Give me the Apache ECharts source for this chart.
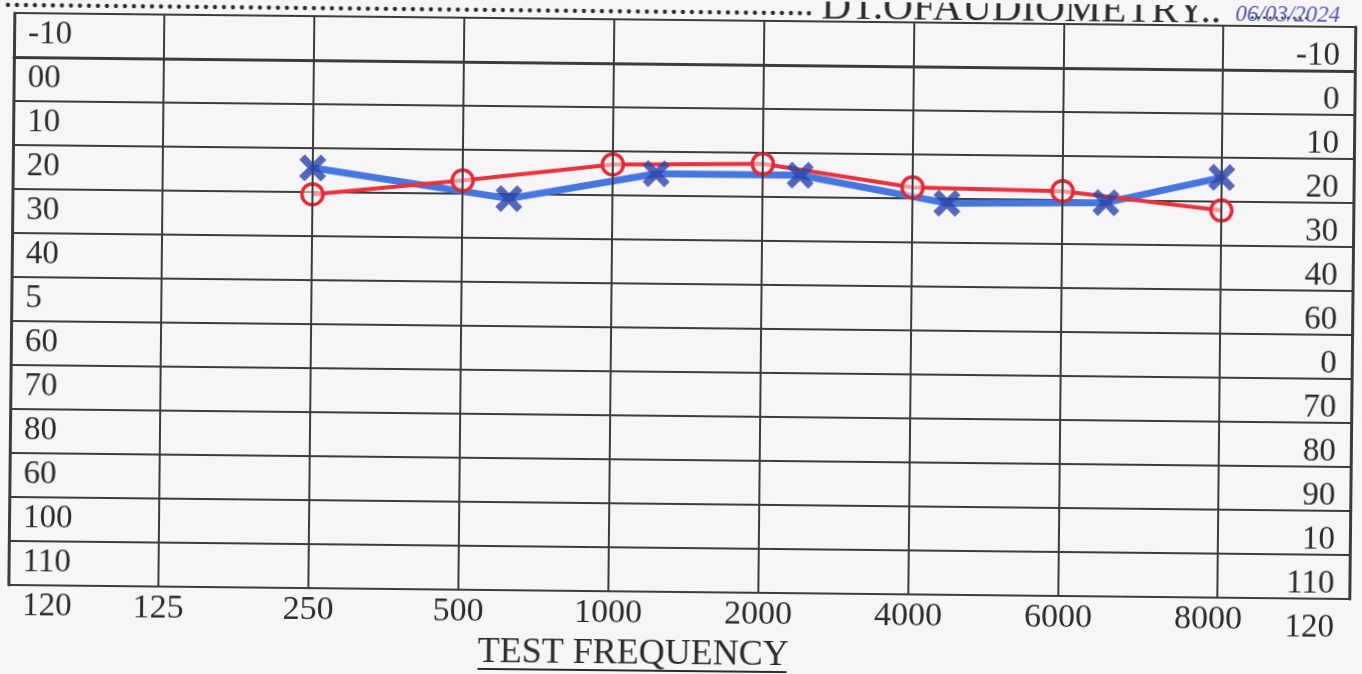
<!DOCTYPE html>
<html>
<head>
<meta charset="utf-8">
<script src="https://cdn.jsdelivr.net/npm/echarts@6/dist/echarts.min.js"></script>
<style>
  html, body { margin: 0; padding: 0; background: #f7f5f7; overflow: hidden; }
  #chart { width: 1362px; height: 674px; transform: rotate(0.6deg); transform-origin: 50% 50%; }
</style>
</head>
<body>
<div id="chart"></div>
<script>
// ---- data ----
const freqLabels = ['125', '250', '500', '1000', '2000', '4000', '6000', '8000'];
const freqSlot = [0, 1, 2, 3, 4, 5, 6, 7.06];            // column of each printed frequency
const leftDbLabels = ['-10', '00', '10', '20', '30', '40', '5', '60', '70', '80', '60', '100', '110', '120'];
const rightDbLabels = ['-10', '0', '10', '20', '30', '40', '60', '0', '70', '80', '90', '10', '110', '120'];

// red circles (O) at 250 ... 8000
const redSlot = [1, 2, 3, 4, 5, 6, 7.06];
const redDb = [30.5, 27, 23, 22.5, 27.5, 28, 32];
// blue crosses (X)
const blueSlot = [1, 2.31, 3.29, 4.25, 5.23, 6.29, 7.06];
const blueDb = [24.5, 31, 25, 25, 31, 30.5, 24.5];

const headerDate = '06/03/2024';

const FONT = '"Liberation Serif", "Times New Roman", serif';
const INK = '#2b2b2b';
const LINE = '#3c3c3c';

const pair = (xs, ys) => xs.map((x, i) => [x, ys[i]]);
const crossPath = 'path://M2,0 L5,3 L8,0 L10,2 L7,5 L10,8 L8,10 L5,7 L2,10 L0,8 L3,5 L0,2 Z';

const chart = echarts.init(document.getElementById('chart'), null, { renderer: 'canvas' });

const option = {
  animation: false,
  backgroundColor: '#f7f5f7',
  grid: { left: 11, right: 10, top: 20, bottom: 82, containLabel: false },
  xAxis: {
    type: 'value',
    min: -1,
    max: 7.94,
    interval: 1,
    axisLine: { show: true, lineStyle: { color: LINE, width: 3 } },
    axisTick: { show: false },
    splitLine: { show: false },
    axisLabel: {
      show: true,
      margin: 5,
      fontFamily: FONT,
      fontSize: 34,
      color: INK,
      showMinLabel: true,
      showMaxLabel: false,
      formatter: v => {
        const i = Math.round(v);
        return (i >= 0 && i < freqLabels.length) ? freqLabels[i] : '';
      }
    }
  },
  yAxis: [
    {
      type: 'value',
      position: 'left',
      inverse: true,
      min: -10,
      max: 120,
      interval: 10,
      axisLine: { show: true, onZero: false, lineStyle: { color: LINE, width: 3 } },
      axisTick: { show: false },
      splitLine: { show: true, lineStyle: { color: LINE, width: 2 } },
      axisLabel: {
        inside: true,
        margin: 14,
        align: 'left',
        verticalAlign: 'top',
        padding: [5, 0, 0, 0],
        fontFamily: FONT,
        fontSize: 33,
        color: INK,
        formatter: v => leftDbLabels[Math.round((v + 10) / 10)]
      }
    },
    {
      type: 'value',
      position: 'right',
      inverse: true,
      min: -10,
      max: 120,
      interval: 10,
      axisLine: { show: true, onZero: false, lineStyle: { color: LINE, width: 3 } },
      axisTick: { show: false },
      splitLine: { show: false },
      axisLabel: {
        inside: true,
        margin: 15,
        align: 'right',
        verticalAlign: 'top',
        padding: [13, 0, 0, 0],
        fontFamily: FONT,
        fontSize: 33,
        color: INK,
        formatter: v => rightDbLabels[Math.round((v + 10) / 10)]
      }
    }
  ],
  series: [
    {
      // column rules of the printed form
      type: 'line',
      data: [],
      z: 1,
      silent: true,
      markLine: {
        silent: true,
        symbol: ['none', 'none'],
        label: { show: false },
        lineStyle: { color: LINE, width: 2, type: 'solid' },
        data: freqSlot.map(v => ({ xAxis: v }))
      }
    },
    {
      name: 'X',
      type: 'line',
      data: pair(blueSlot, blueDb),
      z: 3,
      showSymbol: false,
      symbol: 'none',
      lineStyle: { color: '#4677e0', width: 7, cap: 'round', join: 'round' }
    },
    {
      name: 'O',
      type: 'line',
      data: pair(redSlot, redDb),
      z: 4,
      symbol: 'circle',
      symbolSize: 21,
      lineStyle: { color: '#e8323c', width: 4 },
      itemStyle: { color: 'rgba(250,236,238,0.55)', borderColor: '#e02a35', borderWidth: 3.5 }
    },
    {
      name: 'X marks',
      type: 'scatter',
      data: pair(blueSlot, blueDb),
      z: 5,
      symbol: crossPath,
      symbolSize: 27,
      itemStyle: { color: '#2a42a8' }
    }
  ],
  graphic: [
    {
      type: 'text', x: 0, y: 5, z: 10,
      style: { text: '..........................................................................................', font: '36px ' + FONT, fill: INK, verticalAlign: 'middle' }
    },
    {
      type: 'text', x: 818, y: 6, z: 10,
      style: { text: 'DT.OFAUDIOMETRY..', font: '41px ' + FONT, fill: INK, verticalAlign: 'middle' }
    },
    {
      type: 'text', x: 1246, y: 7, z: 10,
      style: { text: '..........', font: '24px ' + FONT, fill: INK, verticalAlign: 'middle' }
    },
    {
      type: 'text', x: 1232, y: 9, z: 11,
      style: { text: headerDate, font: 'italic 23px ' + FONT, fill: '#4a58b0', verticalAlign: 'middle' }
    },
    {
      type: 'text', x: 481, y: 655, z: 10,
      style: { text: 'TEST FREQUENCY', font: '36px ' + FONT, fill: INK, verticalAlign: 'middle' }
    },
    {
      type: 'line', z: 10,
      shape: { x1: 481, y1: 671, x2: 790, y2: 671 },
      style: { stroke: INK, lineWidth: 2 }
    }
  ]
};

chart.setOption(option);
</script>
</body>
</html>
